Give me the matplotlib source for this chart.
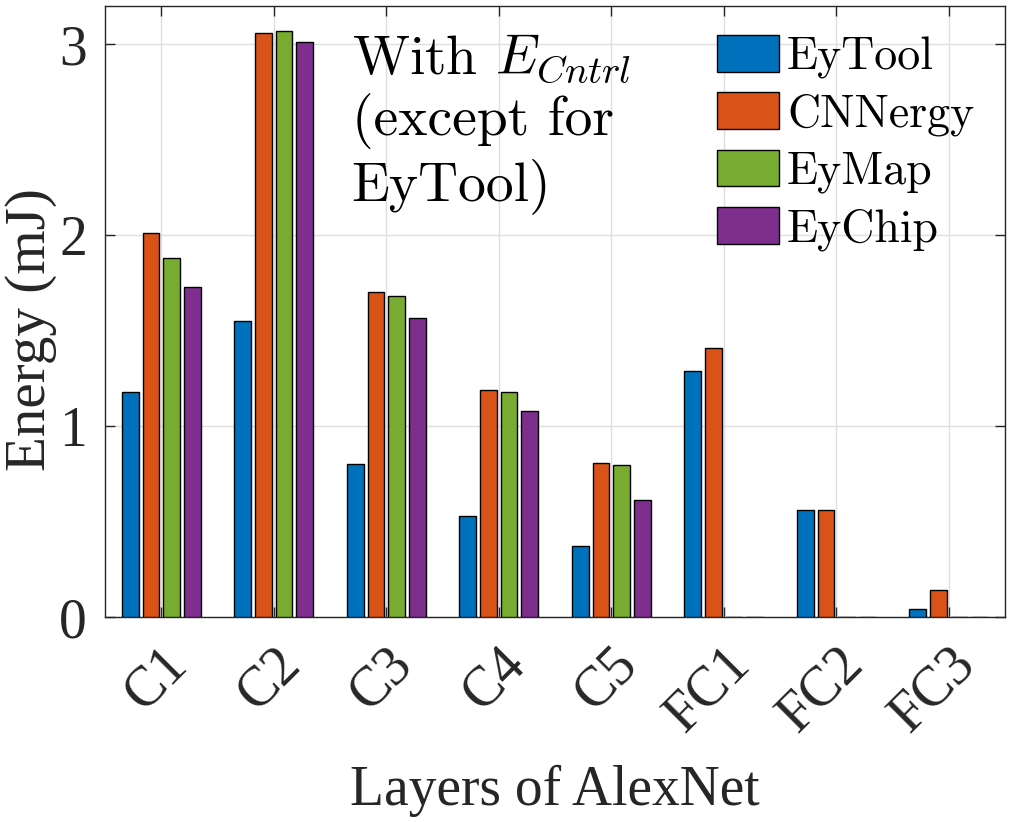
import matplotlib
matplotlib.use('Agg')
import matplotlib.pyplot as plt
import numpy as np

# values (mJ)
layers = ['C1', 'C2', 'C3', 'C4', 'C5', 'FC1', 'FC2', 'FC3']
eytool = [1.18, 1.55, 0.80, 0.53, 0.37, 1.29, 0.56, 0.04]
cnnergy = [2.01, 3.06, 1.70, 1.19, 0.805, 1.41, 0.56, 0.14]
eymap = [1.88, 3.07, 1.68, 1.18, 0.795, 0, 0, 0]
eychip = [1.73, 3.01, 1.565, 1.08, 0.615, 0, 0, 0]

names = ['EyTool', 'CNNergy', 'EyMap', 'EyChip']
colors = ['#0072BD', '#D95319', '#77AC30', '#7E2F8E']

plt.rcParams['font.family'] = ['Liberation Serif', 'DejaVu Serif']
plt.rcParams['mathtext.fontset'] = 'cm'

fig = plt.figure(figsize=(10.13, 8.22), dpi=100)
ax = fig.add_axes([105/1013, 1-617/822, 900/1013, 611/822])

x = np.arange(1, len(layers)+1)
step = 0.184
width = 0.148
series = [eytool, cnnergy, eymap, eychip]
for i, (vals, name, col) in enumerate(zip(series, names, colors)):
    ax.bar(x + (i-1.5)*step, vals, width, color=col, edgecolor='black',
           linewidth=1.0, label=name, zorder=3)

ax.set_xlim(0.5, 8.5)
ax.set_ylim(0, 3.2)
ax.set_yticks([0, 1, 2, 3])
ax.set_xticks(x)
ax.set_xticklabels(layers, rotation=45, ha='right', va='top',
                   rotation_mode='anchor')
for lbl in ax.get_xticklabels():
    lbl.set_transform(lbl.get_transform() + matplotlib.transforms.ScaledTranslation(0.34, 0, fig.dpi_scale_trans))

ax.grid(True, color='#dfdfdf', linewidth=1.0, zorder=0)
ax.set_axisbelow(True)
ax.tick_params(axis='both', direction='in', length=7, width=1, color='#262626',
               labelsize=40, labelcolor='#262626', top=True, right=True)
ax.tick_params(axis='y', pad=13)
ax.tick_params(axis='x', pad=15)
for s in ax.spines.values():
    s.set_color('#262626')
    s.set_linewidth(1.0)

ax.set_ylabel('Energy (mJ)', fontsize=41, color='#262626')
ax.yaxis.set_label_coords(-0.053, 0.471)
ax.set_xlabel('Layers of AlexNet', fontsize=40, color='#262626', labelpad=16)

ax.text(0.274, 0.9555, 'With $E_{Cntrl}$\n(except for\nEyTool)', transform=ax.transAxes,
        family='cmr10', fontsize=40, va='top', ha='left', linespacing=1.2)

ax.legend(loc='upper left', bbox_to_anchor=(717/1013, 1-35/822), bbox_transform=fig.transFigure,
          frameon=False, prop={'family': 'cmr10', 'size': 33}, handlelength=1.35,
          handleheight=0.85, handletextpad=0.18, labelspacing=0.3, borderpad=0, borderaxespad=0)

fig.savefig('out.png', dpi=100)
